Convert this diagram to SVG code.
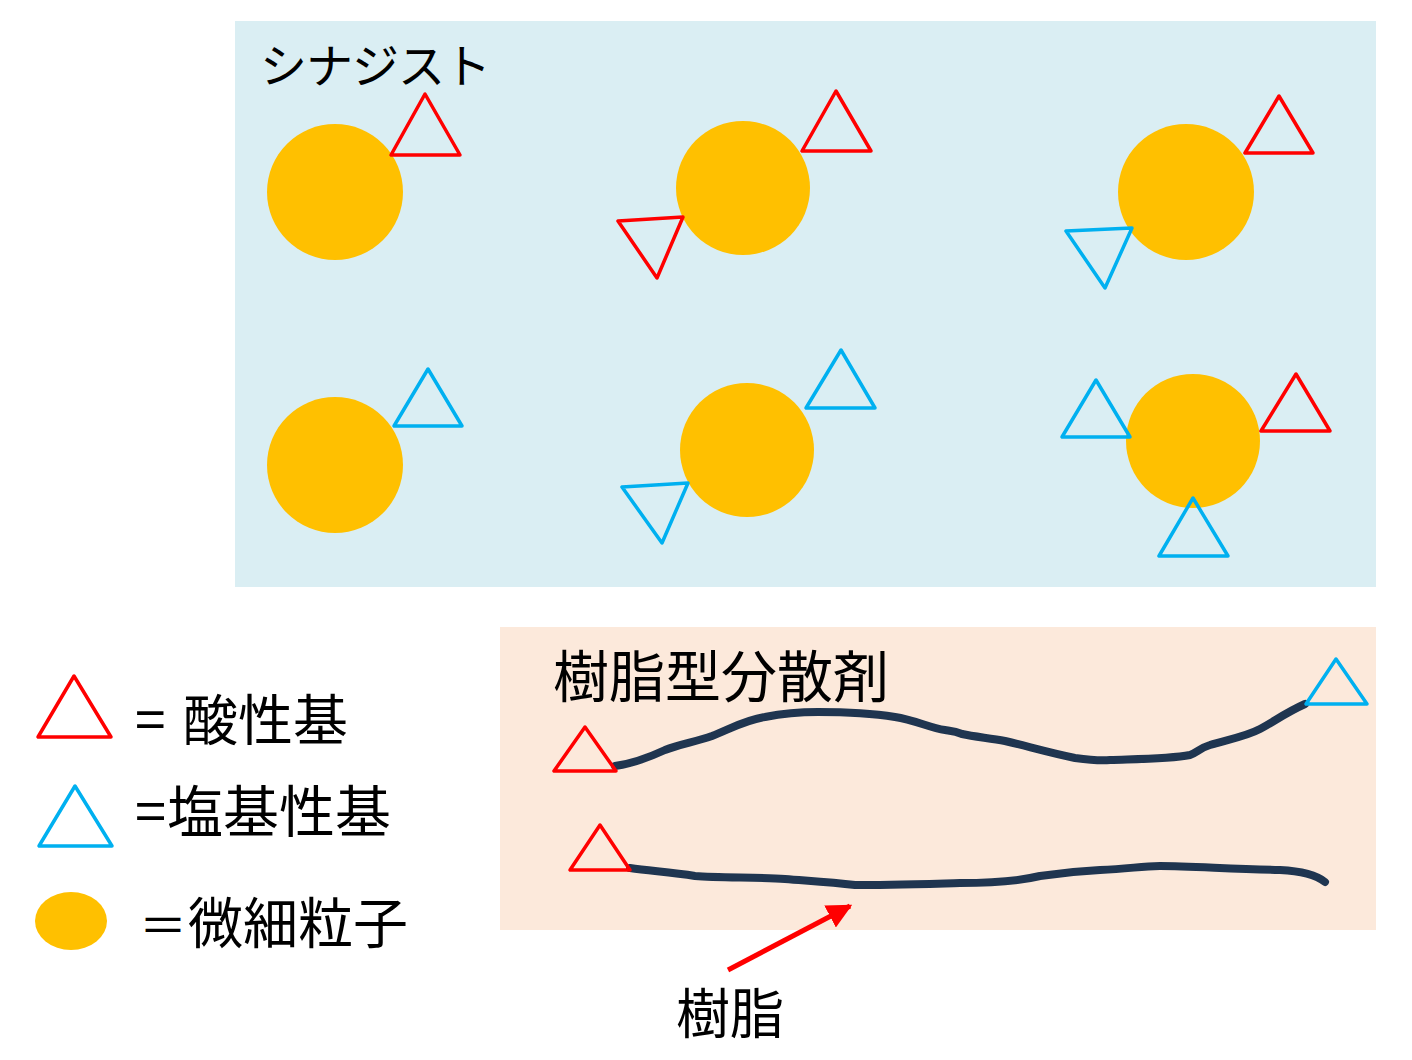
<svg xmlns="http://www.w3.org/2000/svg" width="1412" height="1060" viewBox="0 0 1412 1060">
<defs>
<style>
.t{font-family:"Noto Sans CJK JP","Noto Sans",sans-serif;fill:#000}
.p{fill:#FFC000}
.a{fill:none;stroke:#FF0000;stroke-width:3.5;stroke-linejoin:round}
.b{fill:none;stroke:#00B0F0;stroke-width:3.5;stroke-linejoin:round}
.r{fill:none;stroke:#1F3550;stroke-width:8;stroke-linecap:round;stroke-linejoin:round}
</style>
<marker id="ah" viewBox="0 0 10 10" refX="9" refY="5" markerWidth="5" markerHeight="5" markerUnits="strokeWidth" orient="auto">
<path d="M0,0 L10,5 L0,10 z" fill="#FF0000"/>
</marker>
</defs>
<rect width="1412" height="1060" fill="#FFFFFF"/>
<g id="synergist-panel">
<rect x="235" y="21" width="1141" height="566" fill="#DAEEF3"/>
<text class="t" x="260" y="83" font-size="47" letter-spacing="-1">シナジスト</text>
</g>
<g id="particle1">
<circle class="p" cx="335" cy="192" r="68"/>
<polygon class="a" points="425,94 391,155 460,155"/>
</g>
<g id="particle2">
<circle class="p" cx="743" cy="188" r="67"/>
<polygon class="a" points="836,91 802,151 871,151"/>
<polygon class="a" points="618,221 683,217 657,278"/>
</g>
<g id="particle3">
<circle class="p" cx="1186" cy="192" r="68"/>
<polygon class="a" points="1279,96 1245,153 1313,153"/>
<polygon class="b" points="1066,231 1132,228 1105,288"/>
</g>
<g id="particle4">
<circle class="p" cx="335" cy="465" r="68"/>
<polygon class="b" points="428,369 394,426 462,426"/>
</g>
<g id="particle5">
<circle class="p" cx="747" cy="450" r="67"/>
<polygon class="b" points="841,350 806,408 875,408"/>
<polygon class="b" points="622,487 688,483 662,543"/>
</g>
<g id="particle6">
<circle class="p" cx="1193" cy="441" r="67"/>
<polygon class="b" points="1096,380 1062,437 1130,437"/>
<polygon class="a" points="1296,374 1261,431 1330,431"/>
<polygon class="b" points="1193,498 1159,556 1228,556"/>
</g>
<g id="resin-panel">
<rect x="500" y="627" width="876" height="303" fill="#FCE9DB"/>
<text class="t" x="553" y="697" font-size="56">樹脂型分散剤</text>
</g>
<g id="resin1">
<path class="r" d="M615,766 C635,763 650,757 665,750 C680,744 695,742 712,736 C730,729 745,720 765,717 C785,713 800,712 818,712 C845,712 870,713 895,717 C915,720 930,728 945,730 C952,731 955,731 962,734 C975,737 990,738 1005,741 C1030,747 1050,753 1075,758 C1090,760 1100,761 1110,760 C1140,759 1170,759 1190,755 C1198,752 1200,748 1210,745 C1225,740 1245,737 1260,729 C1275,721 1285,713 1305,704"/>
<polygon class="a" points="585,727 554,771 616,771"/>
<polygon class="b" points="1336,659 1306,704 1367,704"/>
</g>
<g id="resin2">
<path class="r" d="M630,868 C650,871 670,872 695,876 C720,878 760,877 785,879 C810,881 830,882 855,885 C885,885 920,884 960,883 C990,883 1015,882 1040,876 C1060,873 1080,871 1100,870 C1130,869 1140,866 1160,866 C1190,866 1230,869 1280,870 C1300,871 1315,874 1325,882"/>
<polygon class="a" points="600,825 570,870 630,870"/>
</g>
<g id="connectors">
<line x1="728" y1="970" x2="850" y2="906" stroke="#FF0000" stroke-width="5" marker-end="url(#ah)"/>
</g>
<g id="resin-label">
<text class="t" x="676" y="1034" font-size="54">樹脂</text>
</g>
<g id="legend-acid">
<polygon class="a" points="74,676 38,737 111,737"/>
<text class="t" x="135" y="740" font-size="55">=<tspan x="183">酸性基</tspan></text>
</g>
<g id="legend-base">
<polygon class="b" points="75,786 39,846 112,846"/>
<text class="t" x="135" y="832" font-size="56">=<tspan x="167">塩基性基</tspan></text>
</g>
<g id="legend-particle">
<ellipse class="p" cx="71" cy="921" rx="36" ry="29"/>
<text class="t" x="139" y="943" font-size="48">＝</text>
<text class="t" x="188" y="943" font-size="55">微細粒子</text>
</g>
</svg>
